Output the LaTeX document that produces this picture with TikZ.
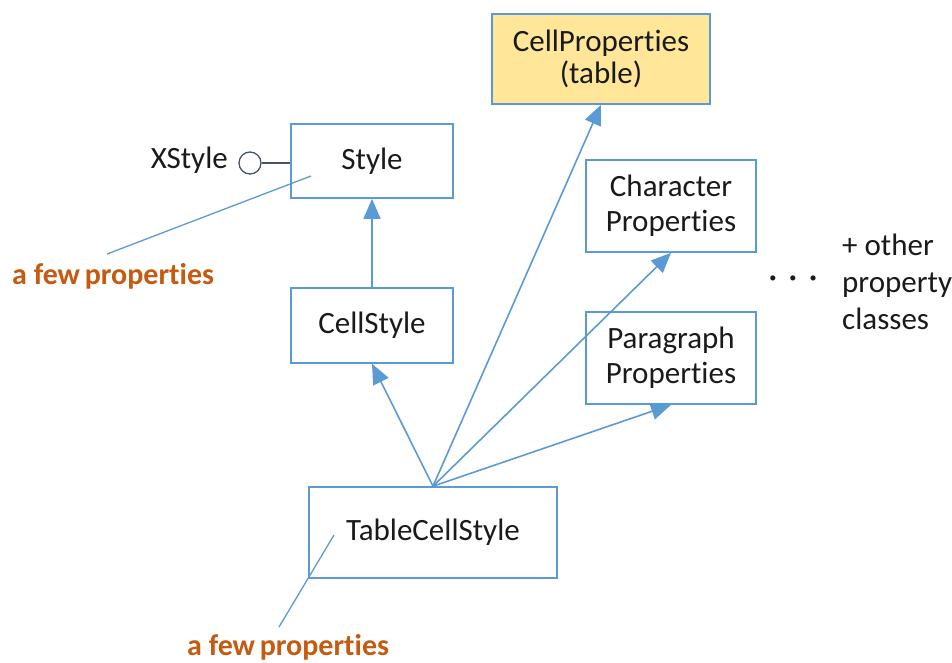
\documentclass[tikz,border=0pt]{standalone}
\usepackage{fontspec}
\setmainfont{Carlito}[Ligatures=NoCommon]
\usetikzlibrary{arrows.meta}
\definecolor{lblue}{HTML}{5B9BD5}
\definecolor{fillY}{HTML}{FFE699}
\definecolor{orng}{HTML}{C55A11}
\definecolor{txt}{HTML}{1A1A1A}
\definecolor{ifc}{HTML}{44546A}
\begin{document}
\begin{tikzpicture}[x=1pt,y=-1pt,
  box/.style={draw=lblue,line width=1.6pt,rectangle,inner sep=0pt,align=center,text=txt,font=\fontsize{31}{35}\selectfont},
  arr/.style={draw=lblue,line width=1.6pt,-{Triangle[length=20pt,width=17pt]}},
  note/.style={draw=lblue,line width=1.3pt},
  lbl/.style={text=txt,font=\fontsize{31}{36}\selectfont,inner sep=0pt},
  orl/.style={text=orng,font=\fontsize{30}{30}\selectfont\bfseries,inner sep=0pt}]
\useasboundingbox (0,0) rectangle (952,662);
\node[box,fill=fillY,minimum width=218pt,minimum height=90pt,font=\fontsize{31}{32}\selectfont] (cp) at (601,59) {CellProperties\\(table)};
\node[box,minimum width=162pt,minimum height=74pt] (st) at (372,161) {Style};
\node[box,minimum width=162pt,minimum height=75pt] (cs) at (372,325.5) {CellStyle};
\node[box,minimum width=170pt,minimum height=92pt] (ch) at (671,206) {Character\\Properties};
\node[box,minimum width=170pt,minimum height=92pt] (pp) at (671,358) {Paragraph\\Properties};
\node[box,minimum width=248pt,minimum height=91pt] (tcs) at (433,532.5) {TableCellStyle};
\node[lbl,anchor=east] (xs) at (228,160) {XStyle};
\node[draw=ifc,line width=1.3pt,circle,minimum size=22pt,inner sep=0pt] (ci) at (250,163) {};
\draw[ifc,line width=1.3pt] (ci.east) -- (st.west |- ci.east);
\draw[arr] (cs.north) -- (st.south);
\draw[arr] (tcs.north) -- (cs.south);
\draw[arr] (tcs.north) -- (cp.south);
\draw[arr] (tcs.north) -- (ch.south);
\draw[arr] (tcs.north) -- (pp.south);
\coordinate (n1a) at (311,176);
\coordinate (n1b) at (107,254);
\draw[note] (n1a) -- (n1b);
\node[orl,anchor=west] (fp1) at (12,276) {a few\hspace{-2pt} properties};
\coordinate (n2a) at (334,535);
\coordinate (n2b) at (279,627);
\draw[note] (n2a) -- (n2b);
\node[orl,anchor=west] (fp2) at (187,647) {a few\hspace{-2pt} properties};
\node[lbl,font=\fontsize{36}{36}\selectfont] (dots) at (793,282) {·\hspace{11pt}·\hspace{11pt}·};
\node[lbl,anchor=west,align=left,font=\fontsize{31}{37}\selectfont] (oth) at (842,282) {+ other\\property\\classes};
\end{tikzpicture}
\end{document}
